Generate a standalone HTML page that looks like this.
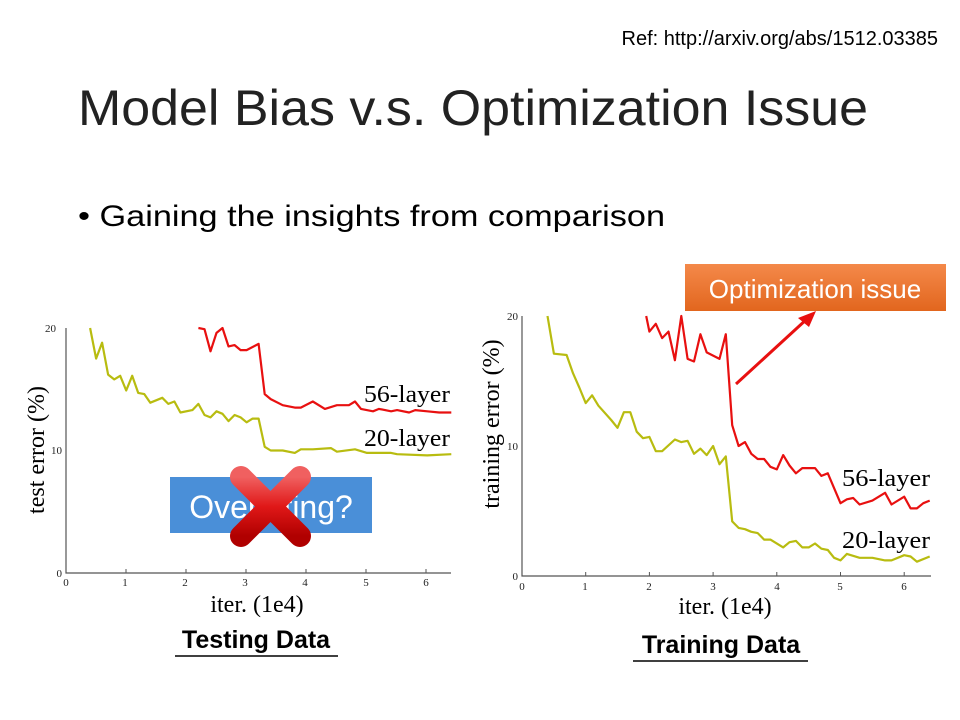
<!DOCTYPE html>
<html><head><meta charset="utf-8"><style>html,body{margin:0;padding:0;background:#fff}svg{display:block}</style></head>
<body>
<svg id="s" width="960" height="720" xmlns="http://www.w3.org/2000/svg" font-family="Liberation Sans, sans-serif">
<defs>
<linearGradient id="og" x1="0" y1="0" x2="0" y2="1"><stop offset="0" stop-color="#f4894a"/><stop offset="1" stop-color="#e2661e"/></linearGradient>
<linearGradient id="xg" x1="0" y1="0" x2="0" y2="1"><stop offset="0" stop-color="#f06060"/><stop offset="0.5" stop-color="#e01818"/><stop offset="1" stop-color="#b00000"/></linearGradient>
</defs>
<text x="938" y="45" font-size="20" text-anchor="end" fill="#000">Ref: http://arxiv.org/abs/1512.03385</text>
<text x="78" y="125" font-size="50" fill="#222" textLength="790" lengthAdjust="spacingAndGlyphs">Model Bias v.s. Optimization Issue</text>
<text x="78" y="226" font-size="30" fill="#000" textLength="587" lengthAdjust="spacingAndGlyphs">• Gaining the insights from comparison</text>

<g stroke="#555" stroke-width="1.2" fill="none">
<path d="M66 328 V573 H451"/>
<path d="M522 316 V576 H931"/>
</g>
<g id="plots"></g>

<g font-family="Liberation Serif, serif" fill="#222" font-size="11">
<text x="56" y="332" text-anchor="end">20</text><text x="62" y="454" text-anchor="end">10</text><text x="62" y="577" text-anchor="end">0</text>
<text x="66" y="586" text-anchor="middle">0</text><text x="125" y="586" text-anchor="middle">1</text><text x="185" y="586" text-anchor="middle">2</text><text x="245" y="586" text-anchor="middle">3</text><text x="305" y="586" text-anchor="middle">4</text><text x="366" y="586" text-anchor="middle">5</text><text x="426" y="586" text-anchor="middle">6</text>
<text x="518" y="320" text-anchor="end">20</text><text x="518" y="450" text-anchor="end">10</text><text x="518" y="580" text-anchor="end">0</text>
<text x="522" y="590" text-anchor="middle">0</text><text x="585" y="590" text-anchor="middle">1</text><text x="649" y="590" text-anchor="middle">2</text><text x="713" y="590" text-anchor="middle">3</text><text x="777" y="590" text-anchor="middle">4</text><text x="840" y="590" text-anchor="middle">5</text><text x="904" y="590" text-anchor="middle">6</text>
</g>
<g font-family="Liberation Serif, serif" fill="#000" font-size="24">
<text x="364" y="402" textLength="86" lengthAdjust="spacingAndGlyphs">56-layer</text><text x="364" y="446" textLength="86" lengthAdjust="spacingAndGlyphs">20-layer</text>
<text x="842" y="486" textLength="88" lengthAdjust="spacingAndGlyphs">56-layer</text><text x="842" y="548" textLength="88" lengthAdjust="spacingAndGlyphs">20-layer</text>
<text x="257" y="612" text-anchor="middle">iter. (1e4)</text>
<text x="725" y="614" text-anchor="middle">iter. (1e4)</text>
<text transform="translate(44,450) rotate(-90)" text-anchor="middle">test error (%)</text>
<text transform="translate(499,424) rotate(-90)" text-anchor="middle">training error (%)</text>
</g>
<text x="256" y="648" font-size="25" font-weight="bold" text-anchor="middle">Testing Data</text>
<line x1="175" y1="656" x2="338" y2="656" stroke="#000" stroke-width="1.5"/>
<text x="721" y="653" font-size="25" font-weight="bold" text-anchor="middle">Training Data</text>
<line x1="633" y1="661" x2="808" y2="661" stroke="#000" stroke-width="1.5"/>

<rect x="685" y="264" width="261" height="47" fill="url(#og)"/>
<text x="815" y="298" font-size="26" fill="#fff" text-anchor="middle">Optimization issue</text>
<line x1="736" y1="384" x2="808" y2="318" stroke="#e81010" stroke-width="3"/>
<polygon points="816,311 798,318 809,327" fill="#e81010"/>

<rect x="170" y="477" width="202" height="56" fill="#4a8fd8"/>
<text x="271" y="518" font-size="32" fill="#fff" text-anchor="middle">Overfitting?</text>
<g stroke="url(#xg)" stroke-width="22" stroke-linecap="round">
<line x1="241" y1="477" x2="300" y2="536"/><line x1="300" y1="477" x2="241" y2="536"/>
</g>
</svg>
<script>
function pl(d,ox,oy,sx,sy,col){return '<polyline fill="none" stroke="'+col+'" stroke-width="2.2" stroke-linejoin="round" points="'+d.map(p=>(ox+p[0]*sx).toFixed(1)+','+(oy-p[1]*sy).toFixed(1)).join(' ')+'"/>';}
var Y='#b8bc10',R='#e81010';
var l20=[[0.4,20],[0.5,17.5],[0.6,18.8],[0.7,16.2],[0.8,15.8],[0.9,16.1],[1.0,14.9],[1.1,16.1],[1.2,14.7],[1.3,14.6],[1.4,13.9],[1.6,14.3],[1.7,13.8],[1.8,14],[1.9,13.1],[2.1,13.3],[2.2,13.8],[2.3,12.9],[2.4,12.7],[2.5,13.2],[2.6,13],[2.7,12.4],[2.8,12.9],[2.9,12.7],[3.0,12.3],[3.1,12.6],[3.2,12.6],[3.3,10.3],[3.4,10],[3.6,10],[3.8,9.8],[3.9,10.1],[4.1,10.1],[4.4,10.2],[4.5,9.9],[4.8,10.1],[5,9.8],[5.2,9.8],[5.4,9.8],[5.5,9.7],[6,9.6],[6.4,9.7]];
var l56=[[2.2,20],[2.3,19.9],[2.4,18.1],[2.5,19.6],[2.6,20],[2.7,18.5],[2.8,18.6],[2.9,18.2],[3.0,18.2],[3.2,18.7],[3.3,14.6],[3.4,14.2],[3.6,13.7],[3.8,13.5],[3.9,13.5],[4.1,14],[4.3,13.4],[4.5,13.7],[4.7,13.7],[4.8,14],[4.9,13.4],[5.1,13.2],[5.2,13.4],[5.4,13.2],[5.5,13.3],[5.7,13.1],[5.8,13.3],[6.0,13.2],[6.2,13.1],[6.4,13.1]];
var r20=[[0.4,20],[0.5,17.1],[0.7,17],[0.8,15.6],[0.9,14.5],[1.0,13.3],[1.1,13.9],[1.2,13.1],[1.4,12],[1.5,11.4],[1.6,12.6],[1.7,12.6],[1.8,11.1],[1.9,10.6],[2.0,10.7],[2.1,9.6],[2.2,9.6],[2.4,10.5],[2.5,10.3],[2.6,10.4],[2.7,9.4],[2.8,9.8],[2.9,9.3],[3.0,10.0],[3.1,8.6],[3.2,9.2],[3.3,4.2],[3.4,3.7],[3.5,3.6],[3.6,3.4],[3.7,3.3],[3.8,2.8],[3.9,2.8],[4.1,2.2],[4.2,2.6],[4.3,2.7],[4.4,2.2],[4.5,2.2],[4.6,2.5],[4.7,2.1],[4.8,2],[4.9,1.4],[5.0,1.2],[5.1,1.7],[5.3,1.4],[5.5,1.4],[5.7,1.2],[5.8,1.2],[6.0,1.6],[6.1,1.5],[6.2,1.1],[6.4,1.5]];
var r56=[[1.95,20],[2.0,18.8],[2.1,19.4],[2.2,18.3],[2.3,18.8],[2.4,16.6],[2.5,20],[2.6,16.7],[2.7,16.5],[2.8,18.6],[2.9,17.2],[3.1,16.7],[3.2,18.6],[3.3,11.6],[3.4,10],[3.5,10.3],[3.6,9.4],[3.7,9],[3.8,9],[3.9,8.4],[4.0,8.2],[4.1,9.3],[4.2,8.5],[4.3,7.9],[4.4,8.3],[4.6,8.3],[4.7,7.7],[4.8,7.9],[5.0,5.6],[5.1,5.9],[5.2,6],[5.3,5.5],[5.5,5.8],[5.7,6.4],[5.8,5.5],[6.0,6.1],[6.1,5.2],[6.2,5.2],[6.3,5.6],[6.4,5.8]];
var h='';
[0,1,2,3,4,5,6].forEach(i=>{h+='<line x1="'+(66+i*60)+'" y1="573" x2="'+(66+i*60)+'" y2="569" stroke="#555"/>';h+='<line x1="'+(522+i*63.7)+'" y1="576" x2="'+(522+i*63.7)+'" y2="572" stroke="#555"/>';});
h+=pl(l20,66,573,60.2,12.25,Y)+pl(l56,66,573,60.2,12.25,R)+pl(r20,522,576,63.7,13,Y)+pl(r56,522,576,63.7,13,R);
document.getElementById('plots').innerHTML=h;
</script>
</body></html>
